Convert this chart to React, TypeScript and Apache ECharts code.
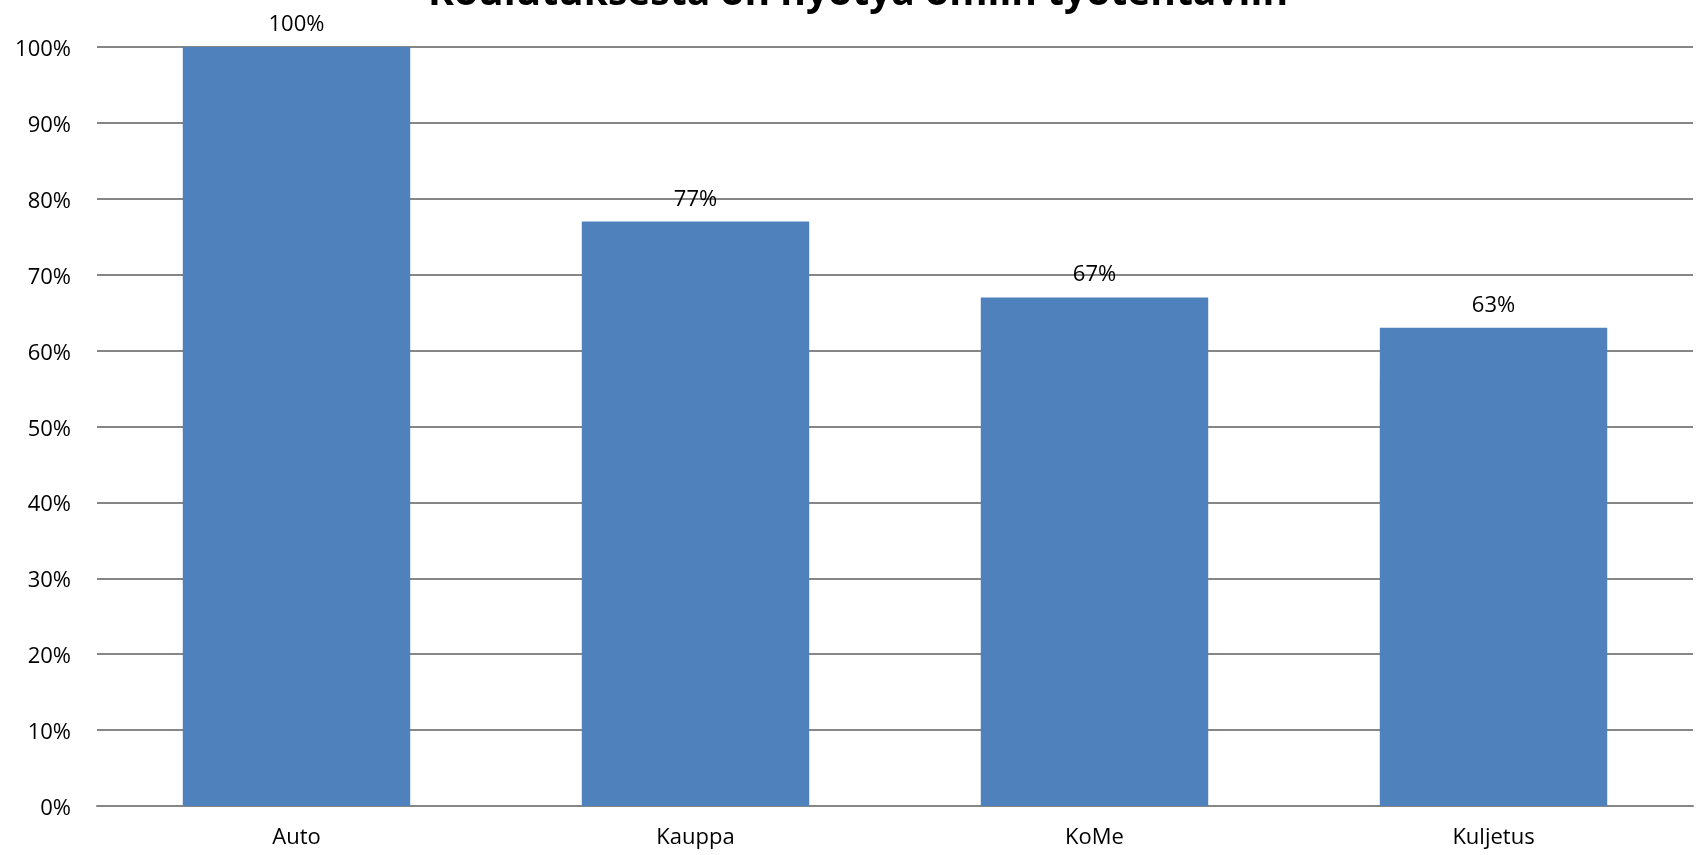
import React, { useEffect, useRef } from "react";
import * as echarts from "echarts";

const titleText = "Koulutuksesta on hyötyä omiin työtehtäviin";
const categories = ["Auto", "Kauppa", "KoMe", "Kuljetus"];
const values = [100, 77, 67, 63];
const yTicks = { min: 0, max: 100, interval: 10 };

export default function App() {
  const ref = useRef<HTMLDivElement>(null);
  useEffect(() => {
    document.body.style.margin = "0";
    document.body.style.overflow = "hidden";
    if (!ref.current) return;
    const chart = echarts.init(ref.current, null, { renderer: "svg" });
    const font = "'Open Sans', sans-serif";
    chart.setOption({
      animation: false,
      textStyle: { fontFamily: font },
      graphic: [
        {
          type: "text",
          x: 858,
          y: -30,
          style: {
            text: titleText,
            fontFamily: font,
            fontWeight: "bold",
            fontSize: 39,
            fill: "#000",
            align: "center",
            verticalAlign: "top",
          },
        },
      ],
      grid: { left: 97, right: 9, top: 47, bottom: 49, containLabel: false },
      xAxis: {
        type: "category",
        data: categories,
        axisLine: { lineStyle: { color: "#868686", width: 2 } },
        axisTick: { show: false },
        axisLabel: { color: "#000", fontSize: 22, fontFamily: font, margin: 18 },
      },
      yAxis: {
        type: "value",
        min: yTicks.min,
        max: yTicks.max,
        interval: yTicks.interval,
        axisLine: { show: false },
        axisTick: { show: false },
        splitLine: { lineStyle: { color: "#868686", width: 2 } },
        axisLabel: {
          color: "#000",
          fontSize: 22,
          fontFamily: font,
          margin: 26,
          formatter: (v: number) => v + "%",
        },
      },
      series: [
        {
          type: "bar",
          data: values,
          barWidth: "57%",
          itemStyle: { color: "#4F81BD" },
          label: {
            show: true,
            position: "top",
            distance: 14,
            color: "#000",
            fontSize: 22,
            fontFamily: font,
            formatter: (p: any) => p.value + "%",
          },
        },
      ],
    });
    return () => chart.dispose();
  }, []);
  return (
    <div
      ref={ref}
      style={{ position: "fixed", top: 0, left: 0, width: 1702, height: 855 }}
    />
  );
}
